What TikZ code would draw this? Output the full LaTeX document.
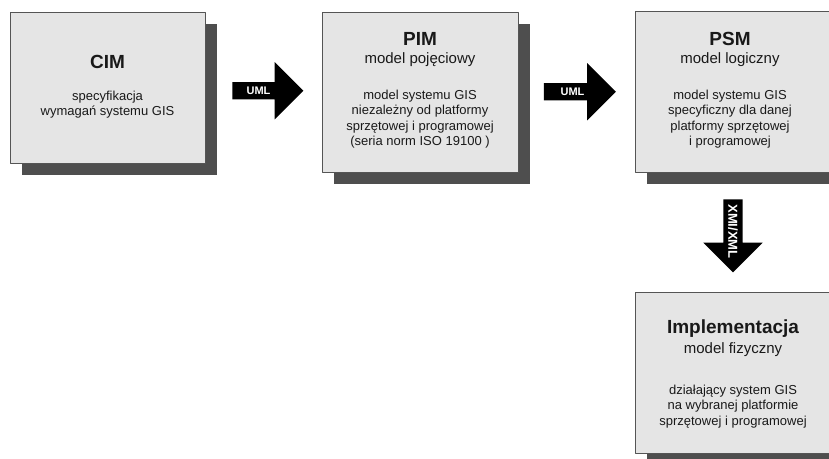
\documentclass[tikz,border=0pt]{standalone}
\usepackage{fontspec}
\setmainfont{Liberation Sans}
\usetikzlibrary{shapes.arrows,shadows,calc}
\definecolor{boxgray}{RGB}{229,229,229}
\definecolor{edgegray}{RGB}{85,85,85}
\definecolor{shadegray}{RGB}{78,78,78}
\definecolor{inkgray}{RGB}{25,25,25}

\begin{document}
\begin{tikzpicture}[x=1pt,y=-1pt,line join=round,
	box/.style={draw=edgegray,line width=0.8pt,fill=boxgray,inner sep=0pt,
		drop shadow={shadow xshift=12pt,shadow yshift=-12pt,fill=shadegray,opacity=1}},
	boxtitle/.style={anchor=base,inner sep=0pt,text=inkgray,font=\fontsize{19}{22}\selectfont\bfseries},
	boxsub/.style={anchor=base,inner sep=0pt,text=inkgray,font=\fontsize{15}{18}\selectfont},
	boxtext/.style={anchor=north,inner sep=0pt,align=center,text=inkgray,font=\fontsize{13}{15.6}\selectfont},
	blockarrow/.style={single arrow,fill=black,draw=none,inner xsep=0pt,inner ysep=8.5pt,
		single arrow head extend=20pt,minimum height=72pt},
	arrowtext/.style={inner sep=0pt,text=white,font=\fontsize{11}{13}\selectfont\bfseries}]
	\useasboundingbox (0,0) rectangle (829,458);
	\fill[white] (0,0) rectangle (829,458);
	\clip (0,0) rectangle (829,458);
	% the four models
	\node[box,minimum width=195pt,minimum height=151pt] (cim) at (107.5,87.5) {};
	\node[box,minimum width=196pt,minimum height=160pt] (pim) at (420,92) {};
	\node[box,minimum width=196pt,minimum height=161pt] (psm) at (733,91.5) {};
	\node[box,minimum width=196pt,minimum height=161pt] (impl) at (733,372.5) {};
	% texts
	\node[boxtitle] (cimT) at (107.5,68) {CIM};
	\node[boxtext] (cimB) at (107.5,90.5) {specyfikacja\\wymagań systemu GIS};
	\node[boxtitle] (pimT) at (420,45) {PIM};
	\node[boxsub] (pimS) at (420,63) {model pojęciowy};
	\node[boxtext] (pimB) at (420,89.5) {model systemu GIS\\niezależny od platformy\\sprzętowej i programowej\\(seria norm ISO 19100 )};
	\node[boxtitle] (psmT) at (730,45) {PSM};
	\node[boxsub] (psmS) at (730,63) {model logiczny};
	\node[boxtext] (psmB) at (730,89.5) {model systemu GIS\\specyficzny dla danej\\platformy sprzętowej\\i programowej};
	\node[boxtitle] (implT) at (733,333) {Implementacja};
	\node[boxsub] (implS) at (733,353) {model fizyczny};
	\node[boxtext] (implB) at (733,384.5) {działający system GIS\\na wybranej platformie\\sprzętowej i programowej};
	% transformations
	\node[blockarrow,minimum height=71pt] (uml1) at ($(cim.east)!.5!(pim.west)+(0,1)$) {};
	\node[arrowtext] (uml1T) at ([xshift=-5pt]uml1.center) {UML};
	\node[blockarrow] (uml2) at ($(pim.east)!.5!(psm.west)+(-1,0)$) {};
	\node[arrowtext] (uml2T) at ([xshift=-3pt]uml2.center) {UML};
	\node[blockarrow,rotate=-90,minimum height=73pt,inner ysep=9.5pt] (xmi) at ($(psm.south)!.5!(impl.north)+(0,-1)$) {};
	\node[arrowtext,rotate=-90,font=\fontsize{13}{15}\selectfont\bfseries] (xmiT) at ([yshift=-0.5pt]xmi.center) {XMI/XML};
\end{tikzpicture}
\end{document}
